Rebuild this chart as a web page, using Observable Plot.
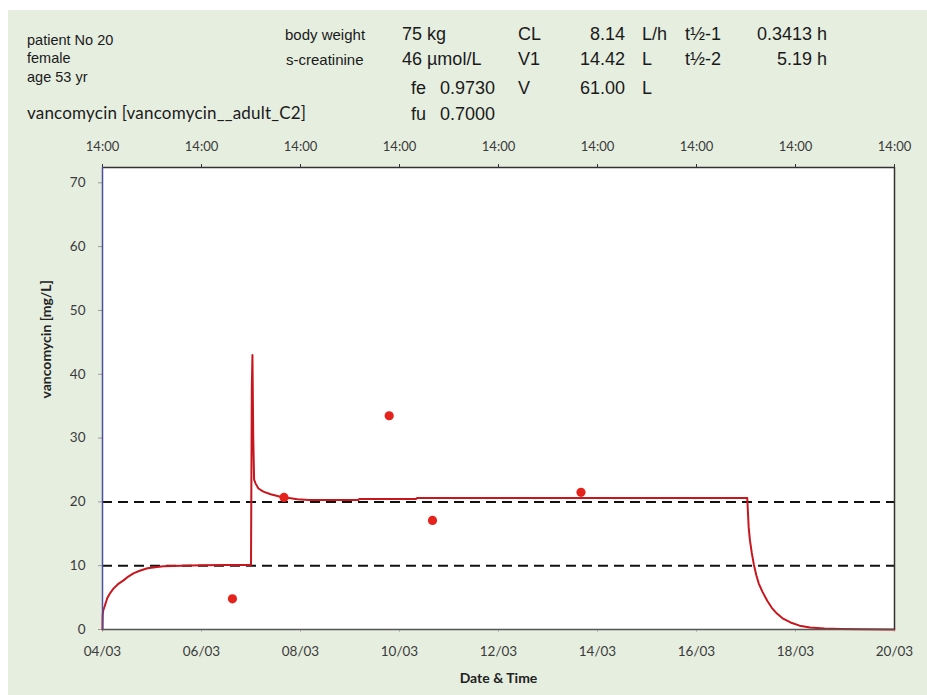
<!DOCTYPE html>
<html>
<head>
<meta charset="utf-8">
<script src="https://cdn.jsdelivr.net/npm/d3@7"></script>
<script src="https://cdn.jsdelivr.net/npm/@observablehq/plot@0.6"></script>
<style>
  body { margin: 0; background: #fff; }
  #wrap { position: relative; width: 927px; height: 695px; overflow: hidden; background: #fff; }
  #panel { position: absolute; left: 8px; top: 10px; width: 919px; height: 685px; background: #e6eee0; }
  #header { position: absolute; left: 0; top: 0; width: 927px; height: 120px; }
  #chart { position: absolute; left: 0; top: 120px; width: 927px; height: 575px; }
  .t { position: absolute; white-space: nowrap; line-height: 1; color: #1a1a1a;
       font-family: "Liberation Sans", Arial, sans-serif; }
  .s145 { font-size: 14.5px; }
  .s15 { font-size: 15px; }
  .s18 { font-size: 18px; }
  .cal { font-family: Lato, "Open Sans", sans-serif; font-size: 17px; letter-spacing: 0.2px; }
</style>
</head>
<body>
<div id="wrap">
  <div id="panel"></div>
  <div id="header">
    <span class="t s145" style="left:27px;top:32.7px">patient No 20</span>
    <span class="t s145" style="left:27px;top:51.2px">female</span>
    <span class="t s145" style="left:27px;top:69.7px">age 53 yr</span>
    <span class="t cal" style="left:27px;top:103.5px">vancomycin [vancomycin__adult_C2]</span>

    <span class="t s15" style="left:285px;top:27.3px">body weight</span>
    <span class="t s15" style="left:286px;top:52.3px">s-creatinine</span>

    <span class="t s18" style="right:505px;top:24.8px">75</span>
    <span class="t s18" style="left:427px;top:24.8px">kg</span>
    <span class="t s18" style="right:505px;top:49.8px">46</span>
    <span class="t s18" style="left:427px;top:49.8px">µmol/L</span>
    <span class="t s18" style="left:411px;top:78.8px">fe</span>
    <span class="t s18" style="right:432px;top:78.8px">0.9730</span>
    <span class="t s18" style="left:411px;top:104.8px">fu</span>
    <span class="t s18" style="right:432px;top:104.8px">0.7000</span>

    <span class="t s18" style="left:518px;top:24.8px">CL</span>
    <span class="t s18" style="left:518px;top:49.8px">V1</span>
    <span class="t s18" style="left:518px;top:78.8px">V</span>
    <span class="t s18" style="right:302px;top:24.8px">8.14</span>
    <span class="t s18" style="right:302px;top:49.8px">14.42</span>
    <span class="t s18" style="right:302px;top:78.8px">61.00</span>
    <span class="t s18" style="left:642px;top:24.8px">L/h</span>
    <span class="t s18" style="left:642px;top:49.8px">L</span>
    <span class="t s18" style="left:642px;top:78.8px">L</span>

    <span class="t s18" style="left:685px;top:24.8px">t½-1</span>
    <span class="t s18" style="left:685px;top:49.8px">t½-2</span>
    <span class="t s18" style="right:100px;top:24.8px">0.3413 h</span>
    <span class="t s18" style="right:100px;top:49.8px">5.19 h</span>
  </div>
  <div id="chart"></div>
</div>
<script>
// ---------------- data ----------------
const startDate = "2015-03-04T00:00Z";
const endDate = "2015-03-20T00:00Z";
const yMax = 72.4;

const dateTicks = ["2015-03-04T00:00Z", "2015-03-06T00:00Z", "2015-03-08T00:00Z", "2015-03-10T00:00Z",
                   "2015-03-12T00:00Z", "2015-03-14T00:00Z", "2015-03-16T00:00Z", "2015-03-18T00:00Z",
                   "2015-03-20T00:00Z"];
const dateTickLabels = ["04/03", "06/03", "08/03", "10/03", "12/03", "14/03", "16/03", "18/03", "20/03"];
const topTickLabels = ["14:00", "14:00", "14:00", "14:00", "14:00", "14:00", "14:00", "14:00", "14:00"];
const yTicks = [0, 10, 20, 30, 40, 50, 60, 70];
const targetLevels = [10, 20];

// simulated concentration curve: hours since 04/03 00:00, mg/L
const curveHours = [0, 0.1, 0.35, 1, 2.3, 3.5, 5.3, 7.5, 10.2, 12.5, 15, 18, 21.8, 25.5, 29.6, 34, 38, 48, 60, 72,
                    72.4, 72.7, 73.1, 73.5, 74.2, 75.6, 78, 81.5, 86.3, 94.5, 100, 124, 124.5, 152, 152.5,
                    312.6, 313.3, 313.9, 314.8, 315.8, 317, 318.2, 320, 322.3, 324.5, 327, 330, 333.6, 338,
                    343, 350, 358, 370, 384];
const curveConc = [0, 2.2, 3.0, 3.6, 4.9, 5.6, 6.4, 7.1, 7.7, 8.3, 8.8, 9.2, 9.6, 9.75, 9.9, 9.95, 10.0, 10.05, 10.1, 10.1,
                   38, 43, 30, 23.5, 22.9, 22.1, 21.6, 21.2, 20.8, 20.4, 20.3, 20.3, 20.45, 20.45, 20.6,
                   20.6, 16, 14, 12, 10.2, 8.5, 7.2, 5.9, 4.5, 3.4, 2.5, 1.7, 1.1, 0.6,
                   0.3, 0.15, 0.08, 0.03, 0.01];

// measured levels
const sampleTimes = ["2015-03-06T15:00Z", "2015-03-07T16:00Z", "2015-03-09T19:00Z", "2015-03-10T16:00Z", "2015-03-13T16:00Z"];
const sampleConc = [4.8, 20.7, 33.5, 17.1, 21.5];

// ---------------- build ----------------
const t0 = new Date(startDate);
const t1 = new Date(endDate);
const curve = curveHours.map((h, i) => ({t: new Date(+t0 + h * 3600e3), c: curveConc[i]}));
const samples = sampleTimes.map((s, i) => ({t: new Date(s), c: sampleConc[i]}));
const ticks = dateTicks.map(d => new Date(d));
const bottomLabel = new Map(ticks.map((d, i) => [+d, dateTickLabels[i]]));
const topLabel = new Map(ticks.map((d, i) => [+d, topTickLabels[i]]));

const fontFam = "Lato, 'Open Sans', sans-serif";

const chart = Plot.plot({
  width: 927,
  height: 575,
  marginLeft: 102,
  marginRight: 33,
  marginTop: 47,
  marginBottom: 66,
  style: {background: "transparent", fontFamily: fontFam, fontSize: "13.5px", color: "#3a3a3a"},
  x: {type: "utc", domain: [t0, t1]},
  y: {domain: [0, yMax]},
  marks: [
    Plot.frame({fill: "white", stroke: "none"}),
    Plot.axisY({ticks: yTicks, tickSize: 4, tickPadding: 13, stroke: "#9a9a9a", fill: "#3a3a3a", fontSize: 13.5, label: null}),
    Plot.axisX({anchor: "bottom", ticks: ticks, tickFormat: d => bottomLabel.get(+d), tickSize: 3, tickPadding: 14,
                stroke: "#bbbbbb", fill: "#3a3a3a", fontSize: 13.5, label: null}),
    Plot.axisX({anchor: "top", ticks: ticks, tickFormat: d => topLabel.get(+d), tickSize: 4, tickPadding: 13,
                stroke: "#333", fill: "#3a3a3a", fontSize: 13, label: null}),
    Plot.ruleY(targetLevels, {stroke: "#111", strokeWidth: 2, strokeDasharray: "10,6"}),
    Plot.line(curve, {x: "t", y: "c", stroke: "#c8161e", strokeWidth: 2, curve: "linear"}),
    Plot.dot(samples, {x: "t", y: "c", r: 4.6, fill: "#e5221b", stroke: "none"}),
    // plot-area borders
    Plot.ruleY([yMax], {stroke: "#333", strokeWidth: 1.5}),
    Plot.ruleX([t1], {stroke: "#333", strokeWidth: 1.5}),
    Plot.ruleY([0], {stroke: "#555", strokeWidth: 1.5}),
    Plot.ruleX([t0], {stroke: "#4b4f9e", strokeWidth: 1.5}),
    // axis titles
    Plot.text(["Date & Time"], {frameAnchor: "bottom", dy: 49, text: d => d, fontWeight: "bold", fontSize: 14, fill: "#222", lineAnchor: "middle"}),
    Plot.text(["vancomycin [mg/L]"], {frameAnchor: "left", dx: -56, rotate: -90, text: d => d, fontWeight: "bold", fontSize: 14, fill: "#222"})
  ]
});
document.getElementById("chart").appendChild(chart);
</script>
</body>
</html>
